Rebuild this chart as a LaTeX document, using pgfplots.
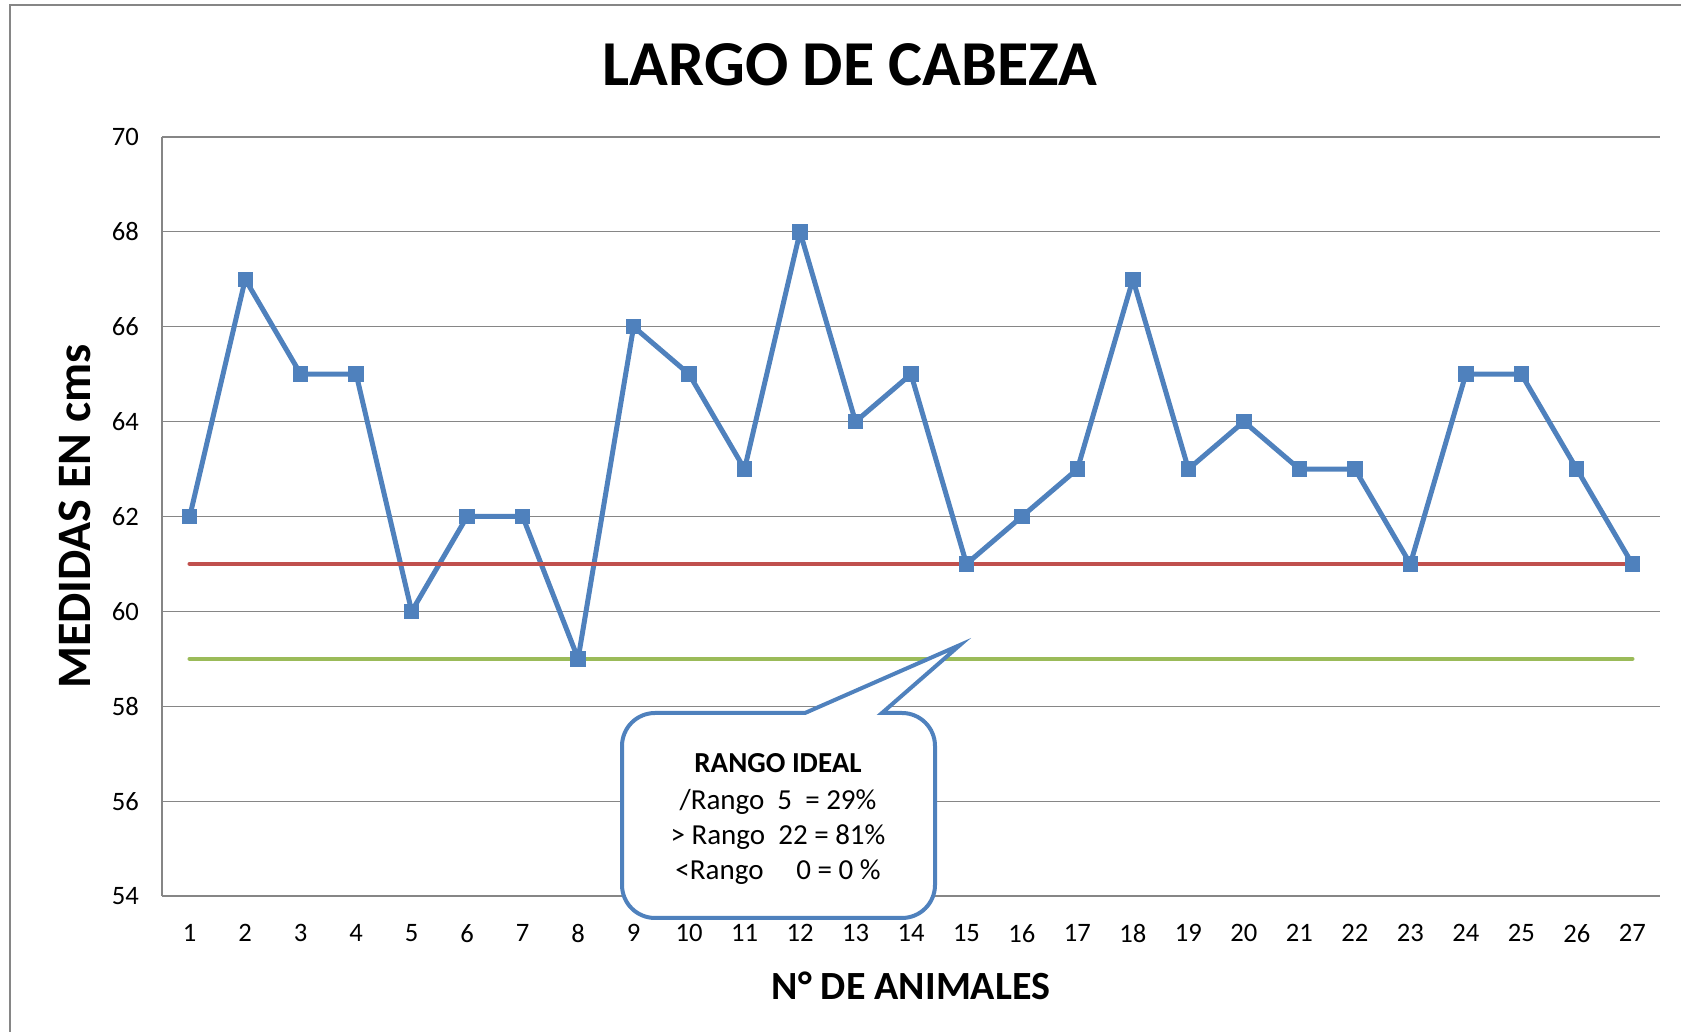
\documentclass[border=0pt]{standalone}
\usepackage{pgfplots}
\pgfplotsset{compat=1.18}
\usepackage{fontspec}
\setmainfont{Carlito}
\definecolor{serblue}{RGB}{79,129,189}
\definecolor{serred}{RGB}{192,80,77}
\definecolor{sergreen}{RGB}{155,187,89}
\definecolor{gridgray}{RGB}{134,134,134}
\begin{document}
\begin{tikzpicture}
\useasboundingbox (0,0) rectangle (840.5pt,516pt);
\draw[gridgray, line width=1pt] (5pt,-5pt) -- (5pt,513.5pt) -- (850pt,513.5pt);
\begin{axis}[
  at={(81pt,68pt)}, anchor=south west,
  scale only axis, width=749pt, height=379.5pt,
  xmin=0.5, xmax=27.5, ymin=54, ymax=70,
  xtick={1,...,27}, ytick={54,56,...,70},
  axis x line=bottom, axis y line=left,
  axis line style={gridgray, line width=0.8pt, -},
  ymajorgrids, grid style={gridgray, line width=0.6pt},
  major tick length=0pt,
  /pgf/number format/assume math mode=true,
  ticklabel style={font=\fontsize{13.3}{15}\selectfont},
  yticklabel style={xshift=-8pt},
  xticklabel style={yshift=-10.7pt},
  title={LARGO DE CABEZA},
  title style={at={(axis description cs:0.4593,1)}, yshift=30pt, anchor=center, font=\fontsize{32}{36}\selectfont\bfseries},
  xlabel={N° DE ANIMALES},
  ylabel={MEDIDAS EN cms},
  every axis x label/.style={at={(axis description cs:0.5,0)}, yshift=-45pt, anchor=center, font=\fontsize{20}{24}\selectfont\bfseries},
  every axis y label/.style={at={(axis description cs:0,0.5)}, xshift=-43.5pt, rotate=90, anchor=center, font=\fontsize{24}{28}\selectfont\bfseries},
  clip=false,
]
\addplot[serblue, line width=2.5pt, line join=round, mark=square*, mark size=3.6pt, mark options={solid, fill=serblue, draw=serblue, line width=0pt}] coordinates {
(1,62) (2,67) (3,65) (4,65) (5,60) (6,62) (7,62) (8,59) (9,66) (10,65)
(11,63) (12,68) (13,64) (14,65) (15,61) (16,62) (17,63) (18,67) (19,63) (20,64)
(21,63) (22,63) (23,61) (24,65) (25,65) (26,63) (27,61)};
\addplot[serred, line width=2.3pt, line cap=round] coordinates {(1,61) (27,61)};
\addplot[sergreen, line width=2.3pt, line cap=round] coordinates {(1,59) (27,59)};
\end{axis}
\def\r{16.5pt}
\draw[serblue, line width=2pt, fill=white, line join=miter]
  (402.5pt,159.5pt) -- (480pt,193.5pt) -- (441pt,159.5pt)
  -- (451pt,159.5pt) arc[start angle=90, end angle=0, radius=\r]
  -- (467.5pt,73.5pt) arc[start angle=0, end angle=-90, radius=\r]
  -- (327.5pt,57pt) arc[start angle=270, end angle=180, radius=\r]
  -- (311pt,143pt) arc[start angle=180, end angle=90, radius=\r]
  -- cycle;
\begin{scope}[every node/.style={anchor=base, inner sep=0pt, font=\fontsize{14.5}{17}\selectfont}]
\node at (389pt,129.5pt) {\textbf{RANGO IDEAL}};
\node at (389pt,111.25pt) {/Rango\ \ 5\ \ = 29\%};
\node at (389pt,93.5pt) {> Rango\ \ 22 = 81\%};
\node at (389pt,76pt) {<Rango\ \ \ \ \ 0 = 0 \%};
\end{scope}
\end{tikzpicture}
\end{document}
